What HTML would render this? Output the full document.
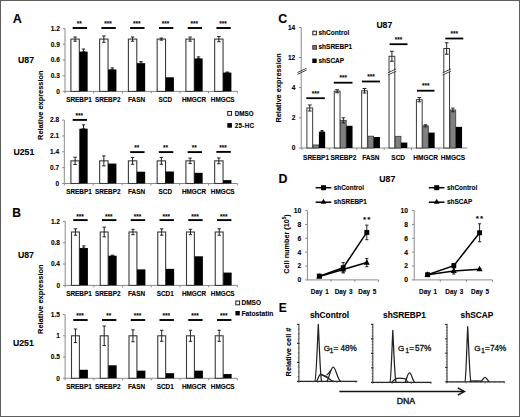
<!DOCTYPE html>
<html><head><meta charset="utf-8"><style>
html,body{margin:0;padding:0;background:#fff;}
svg text{stroke:currentColor;stroke-width:0.1px;}
svg .g1 text{stroke:#111;stroke-width:0.3px;}
svg text.dna{stroke:#222;stroke-width:0.45px;}
body{width:520px;height:417px;overflow:hidden;position:relative;}
.frame{position:absolute;left:0;top:0;width:518px;height:415px;border:1px solid #5e5e5e;}
</style></head><body>
<svg width="520" height="417" viewBox="0 0 520 417" style="position:absolute;left:0;top:0">
<g font-family='"Liberation Sans", sans-serif'>
<rect x="0.00" y="0.00" width="520.00" height="417.00" fill="#fff" stroke="none" stroke-width="1"/>
<text x="12.70" y="22.60" font-size="12.6" text-anchor="start" font-weight="bold" fill="#000" >A</text>
<text x="18.10" y="63.10" font-size="8.7" text-anchor="start" font-weight="bold" fill="#000" >U87</text>
<text x="13.50" y="154.80" font-size="8.7" text-anchor="start" font-weight="bold" fill="#000" >U251</text>
<text transform="translate(43.20,105.20) rotate(-90)" font-size="7.4" text-anchor="middle" font-weight="bold" fill="#000">Relative expression</text>
<line x1="65.00" y1="28.64" x2="65.00" y2="91.90" stroke="#8a8a8a" stroke-width="1" />
<line x1="65.00" y1="91.40" x2="237.40" y2="91.40" stroke="#8a8a8a" stroke-width="1" />
<line x1="62.80" y1="91.40" x2="65.00" y2="91.40" stroke="#8a8a8a" stroke-width="1" />
<text x="59.80" y="93.70" font-size="6.5" text-anchor="end" font-weight="bold" fill="#000" >0</text>
<line x1="62.80" y1="75.71" x2="65.00" y2="75.71" stroke="#8a8a8a" stroke-width="1" />
<text x="59.80" y="78.01" font-size="6.5" text-anchor="end" font-weight="bold" fill="#000" >0.3</text>
<line x1="62.80" y1="60.02" x2="65.00" y2="60.02" stroke="#8a8a8a" stroke-width="1" />
<text x="59.80" y="62.32" font-size="6.5" text-anchor="end" font-weight="bold" fill="#000" >0.6</text>
<line x1="62.80" y1="44.33" x2="65.00" y2="44.33" stroke="#8a8a8a" stroke-width="1" />
<text x="59.80" y="46.63" font-size="6.5" text-anchor="end" font-weight="bold" fill="#000" >0.9</text>
<line x1="62.80" y1="28.64" x2="65.00" y2="28.64" stroke="#8a8a8a" stroke-width="1" />
<text x="59.80" y="30.94" font-size="6.5" text-anchor="end" font-weight="bold" fill="#000" >1.2</text>
<line x1="65.00" y1="91.40" x2="65.00" y2="93.40" stroke="#8a8a8a" stroke-width="1" />
<line x1="93.73" y1="91.40" x2="93.73" y2="93.40" stroke="#8a8a8a" stroke-width="1" />
<line x1="122.47" y1="91.40" x2="122.47" y2="93.40" stroke="#8a8a8a" stroke-width="1" />
<line x1="151.20" y1="91.40" x2="151.20" y2="93.40" stroke="#8a8a8a" stroke-width="1" />
<line x1="179.93" y1="91.40" x2="179.93" y2="93.40" stroke="#8a8a8a" stroke-width="1" />
<line x1="208.67" y1="91.40" x2="208.67" y2="93.40" stroke="#8a8a8a" stroke-width="1" />
<line x1="237.40" y1="91.40" x2="237.40" y2="93.40" stroke="#8a8a8a" stroke-width="1" />
<rect x="70.90" y="39.10" width="8.40" height="52.30" fill="#fff" stroke="#3a3a3a" stroke-width="1.1"/>
<rect x="79.35" y="51.65" width="8.30" height="39.75" fill="#000" stroke="none" stroke-width="1"/>
<line x1="75.10" y1="37.01" x2="75.10" y2="41.19" stroke="#222" stroke-width="1.0" />
<line x1="73.40" y1="37.01" x2="76.80" y2="37.01" stroke="#222" stroke-width="1.0" />
<line x1="73.40" y1="41.19" x2="76.80" y2="41.19" stroke="#222" stroke-width="1.0" />
<line x1="83.50" y1="49.04" x2="83.50" y2="51.65" stroke="#222" stroke-width="1.0" />
<line x1="81.80" y1="49.04" x2="85.20" y2="49.04" stroke="#222" stroke-width="1.0" />
<line x1="81.80" y1="51.65" x2="85.20" y2="51.65" stroke="#222" stroke-width="1.0" />
<line x1="72.65" y1="28.00" x2="87.05" y2="28.00" stroke="#000" stroke-width="1.9" />
<text x="79.30" y="26.30" font-size="6.4" text-anchor="middle" font-weight="bold" fill="#000" >**</text>
<text x="79.00" y="101.70" font-size="6.4" text-anchor="middle" font-weight="bold" fill="#000" >SREBP1</text>
<rect x="99.65" y="39.10" width="8.40" height="52.30" fill="#fff" stroke="#3a3a3a" stroke-width="1.1"/>
<rect x="108.10" y="69.43" width="8.30" height="21.97" fill="#000" stroke="none" stroke-width="1"/>
<line x1="103.85" y1="35.96" x2="103.85" y2="42.24" stroke="#222" stroke-width="1.0" />
<line x1="102.15" y1="35.96" x2="105.55" y2="35.96" stroke="#222" stroke-width="1.0" />
<line x1="102.15" y1="42.24" x2="105.55" y2="42.24" stroke="#222" stroke-width="1.0" />
<line x1="112.25" y1="67.87" x2="112.25" y2="69.43" stroke="#222" stroke-width="1.0" />
<line x1="110.55" y1="67.87" x2="113.95" y2="67.87" stroke="#222" stroke-width="1.0" />
<line x1="110.55" y1="69.43" x2="113.95" y2="69.43" stroke="#222" stroke-width="1.0" />
<line x1="101.40" y1="28.00" x2="115.80" y2="28.00" stroke="#000" stroke-width="1.9" />
<text x="108.05" y="26.30" font-size="6.4" text-anchor="middle" font-weight="bold" fill="#000" >***</text>
<text x="107.75" y="101.70" font-size="6.4" text-anchor="middle" font-weight="bold" fill="#000" >SREBP2</text>
<rect x="128.40" y="39.10" width="8.40" height="52.30" fill="#fff" stroke="#3a3a3a" stroke-width="1.1"/>
<rect x="136.85" y="63.16" width="8.30" height="28.24" fill="#000" stroke="none" stroke-width="1"/>
<line x1="132.60" y1="37.01" x2="132.60" y2="41.19" stroke="#222" stroke-width="1.0" />
<line x1="130.90" y1="37.01" x2="134.30" y2="37.01" stroke="#222" stroke-width="1.0" />
<line x1="130.90" y1="41.19" x2="134.30" y2="41.19" stroke="#222" stroke-width="1.0" />
<line x1="141.00" y1="61.59" x2="141.00" y2="63.16" stroke="#222" stroke-width="1.0" />
<line x1="139.30" y1="61.59" x2="142.70" y2="61.59" stroke="#222" stroke-width="1.0" />
<line x1="139.30" y1="63.16" x2="142.70" y2="63.16" stroke="#222" stroke-width="1.0" />
<line x1="130.15" y1="28.00" x2="144.55" y2="28.00" stroke="#000" stroke-width="1.9" />
<text x="136.80" y="26.30" font-size="6.4" text-anchor="middle" font-weight="bold" fill="#000" >***</text>
<text x="136.50" y="101.70" font-size="6.4" text-anchor="middle" font-weight="bold" fill="#000" >FASN</text>
<rect x="157.15" y="39.10" width="8.40" height="52.30" fill="#fff" stroke="#3a3a3a" stroke-width="1.1"/>
<rect x="165.60" y="77.28" width="8.30" height="14.12" fill="#000" stroke="none" stroke-width="1"/>
<line x1="161.35" y1="38.05" x2="161.35" y2="40.15" stroke="#222" stroke-width="1.0" />
<line x1="159.65" y1="38.05" x2="163.05" y2="38.05" stroke="#222" stroke-width="1.0" />
<line x1="159.65" y1="40.15" x2="163.05" y2="40.15" stroke="#222" stroke-width="1.0" />
<line x1="158.90" y1="28.00" x2="173.30" y2="28.00" stroke="#000" stroke-width="1.9" />
<text x="165.55" y="26.30" font-size="6.4" text-anchor="middle" font-weight="bold" fill="#000" >***</text>
<text x="165.25" y="101.70" font-size="6.4" text-anchor="middle" font-weight="bold" fill="#000" >SCD</text>
<rect x="185.90" y="39.10" width="8.40" height="52.30" fill="#fff" stroke="#3a3a3a" stroke-width="1.1"/>
<rect x="194.35" y="58.45" width="8.30" height="32.95" fill="#000" stroke="none" stroke-width="1"/>
<line x1="190.10" y1="37.01" x2="190.10" y2="41.19" stroke="#222" stroke-width="1.0" />
<line x1="188.40" y1="37.01" x2="191.80" y2="37.01" stroke="#222" stroke-width="1.0" />
<line x1="188.40" y1="41.19" x2="191.80" y2="41.19" stroke="#222" stroke-width="1.0" />
<line x1="198.50" y1="56.88" x2="198.50" y2="58.45" stroke="#222" stroke-width="1.0" />
<line x1="196.80" y1="56.88" x2="200.20" y2="56.88" stroke="#222" stroke-width="1.0" />
<line x1="196.80" y1="58.45" x2="200.20" y2="58.45" stroke="#222" stroke-width="1.0" />
<line x1="187.65" y1="28.00" x2="202.05" y2="28.00" stroke="#000" stroke-width="1.9" />
<text x="194.30" y="26.30" font-size="6.4" text-anchor="middle" font-weight="bold" fill="#000" >***</text>
<text x="194.00" y="101.70" font-size="6.4" text-anchor="middle" font-weight="bold" fill="#000" >HMGCR</text>
<rect x="214.65" y="39.10" width="8.40" height="52.30" fill="#fff" stroke="#3a3a3a" stroke-width="1.1"/>
<rect x="223.10" y="72.57" width="8.30" height="18.83" fill="#000" stroke="none" stroke-width="1"/>
<line x1="218.85" y1="36.49" x2="218.85" y2="41.72" stroke="#222" stroke-width="1.0" />
<line x1="217.15" y1="36.49" x2="220.55" y2="36.49" stroke="#222" stroke-width="1.0" />
<line x1="217.15" y1="41.72" x2="220.55" y2="41.72" stroke="#222" stroke-width="1.0" />
<line x1="227.25" y1="72.05" x2="227.25" y2="72.57" stroke="#222" stroke-width="1.0" />
<line x1="225.55" y1="72.05" x2="228.95" y2="72.05" stroke="#222" stroke-width="1.0" />
<line x1="225.55" y1="72.57" x2="228.95" y2="72.57" stroke="#222" stroke-width="1.0" />
<line x1="216.40" y1="28.00" x2="230.80" y2="28.00" stroke="#000" stroke-width="1.9" />
<text x="223.05" y="26.30" font-size="6.4" text-anchor="middle" font-weight="bold" fill="#000" >***</text>
<text x="222.75" y="101.70" font-size="6.4" text-anchor="middle" font-weight="bold" fill="#000" >HMGCS</text>
<line x1="64.30" y1="120.08" x2="64.30" y2="184.00" stroke="#8a8a8a" stroke-width="1" />
<line x1="64.30" y1="183.50" x2="237.40" y2="183.50" stroke="#8a8a8a" stroke-width="1" />
<line x1="62.10" y1="183.50" x2="64.30" y2="183.50" stroke="#8a8a8a" stroke-width="1" />
<text x="59.10" y="185.80" font-size="6.5" text-anchor="end" font-weight="bold" fill="#000" >0</text>
<line x1="62.10" y1="167.65" x2="64.30" y2="167.65" stroke="#8a8a8a" stroke-width="1" />
<text x="59.10" y="169.95" font-size="6.5" text-anchor="end" font-weight="bold" fill="#000" >0.7</text>
<line x1="62.10" y1="151.79" x2="64.30" y2="151.79" stroke="#8a8a8a" stroke-width="1" />
<text x="59.10" y="154.09" font-size="6.5" text-anchor="end" font-weight="bold" fill="#000" >1.4</text>
<line x1="62.10" y1="135.94" x2="64.30" y2="135.94" stroke="#8a8a8a" stroke-width="1" />
<text x="59.10" y="138.24" font-size="6.5" text-anchor="end" font-weight="bold" fill="#000" >2.1</text>
<line x1="62.10" y1="120.08" x2="64.30" y2="120.08" stroke="#8a8a8a" stroke-width="1" />
<text x="59.10" y="122.38" font-size="6.5" text-anchor="end" font-weight="bold" fill="#000" >2.8</text>
<line x1="64.30" y1="183.50" x2="64.30" y2="185.50" stroke="#8a8a8a" stroke-width="1" />
<line x1="93.15" y1="183.50" x2="93.15" y2="185.50" stroke="#8a8a8a" stroke-width="1" />
<line x1="122.00" y1="183.50" x2="122.00" y2="185.50" stroke="#8a8a8a" stroke-width="1" />
<line x1="150.85" y1="183.50" x2="150.85" y2="185.50" stroke="#8a8a8a" stroke-width="1" />
<line x1="179.70" y1="183.50" x2="179.70" y2="185.50" stroke="#8a8a8a" stroke-width="1" />
<line x1="208.55" y1="183.50" x2="208.55" y2="185.50" stroke="#8a8a8a" stroke-width="1" />
<line x1="237.40" y1="183.50" x2="237.40" y2="185.50" stroke="#8a8a8a" stroke-width="1" />
<rect x="70.90" y="160.85" width="8.40" height="22.65" fill="#fff" stroke="#3a3a3a" stroke-width="1.1"/>
<rect x="79.35" y="128.69" width="8.30" height="54.81" fill="#000" stroke="none" stroke-width="1"/>
<line x1="75.10" y1="157.23" x2="75.10" y2="164.47" stroke="#222" stroke-width="1.0" />
<line x1="73.40" y1="157.23" x2="76.80" y2="157.23" stroke="#222" stroke-width="1.0" />
<line x1="73.40" y1="164.47" x2="76.80" y2="164.47" stroke="#222" stroke-width="1.0" />
<line x1="83.50" y1="124.84" x2="83.50" y2="128.69" stroke="#222" stroke-width="1.0" />
<line x1="81.80" y1="124.84" x2="85.20" y2="124.84" stroke="#222" stroke-width="1.0" />
<line x1="81.80" y1="128.69" x2="85.20" y2="128.69" stroke="#222" stroke-width="1.0" />
<line x1="72.65" y1="119.90" x2="87.05" y2="119.90" stroke="#000" stroke-width="1.9" />
<text x="79.30" y="117.90" font-size="6.4" text-anchor="middle" font-weight="bold" fill="#000" >***</text>
<text x="79.00" y="193.70" font-size="6.4" text-anchor="middle" font-weight="bold" fill="#000" >SREBP1</text>
<rect x="99.65" y="160.85" width="8.40" height="22.65" fill="#fff" stroke="#3a3a3a" stroke-width="1.1"/>
<rect x="108.10" y="163.57" width="8.30" height="19.93" fill="#000" stroke="none" stroke-width="1"/>
<line x1="103.85" y1="155.87" x2="103.85" y2="165.83" stroke="#222" stroke-width="1.0" />
<line x1="102.15" y1="155.87" x2="105.55" y2="155.87" stroke="#222" stroke-width="1.0" />
<line x1="102.15" y1="165.83" x2="105.55" y2="165.83" stroke="#222" stroke-width="1.0" />
<text x="107.75" y="193.70" font-size="6.4" text-anchor="middle" font-weight="bold" fill="#000" >SREBP2</text>
<rect x="128.40" y="160.85" width="8.40" height="22.65" fill="#fff" stroke="#3a3a3a" stroke-width="1.1"/>
<rect x="136.85" y="171.72" width="8.30" height="11.78" fill="#000" stroke="none" stroke-width="1"/>
<line x1="132.60" y1="157.45" x2="132.60" y2="164.25" stroke="#222" stroke-width="1.0" />
<line x1="130.90" y1="157.45" x2="134.30" y2="157.45" stroke="#222" stroke-width="1.0" />
<line x1="130.90" y1="164.25" x2="134.30" y2="164.25" stroke="#222" stroke-width="1.0" />
<line x1="130.15" y1="152.10" x2="144.55" y2="152.10" stroke="#000" stroke-width="1.9" />
<text x="136.80" y="150.10" font-size="6.4" text-anchor="middle" font-weight="bold" fill="#000" >**</text>
<text x="136.50" y="193.70" font-size="6.4" text-anchor="middle" font-weight="bold" fill="#000" >FASN</text>
<rect x="157.15" y="160.85" width="8.40" height="22.65" fill="#fff" stroke="#3a3a3a" stroke-width="1.1"/>
<rect x="165.60" y="171.50" width="8.30" height="12.00" fill="#000" stroke="none" stroke-width="1"/>
<line x1="161.35" y1="157.45" x2="161.35" y2="164.25" stroke="#222" stroke-width="1.0" />
<line x1="159.65" y1="157.45" x2="163.05" y2="157.45" stroke="#222" stroke-width="1.0" />
<line x1="159.65" y1="164.25" x2="163.05" y2="164.25" stroke="#222" stroke-width="1.0" />
<line x1="158.90" y1="152.10" x2="173.30" y2="152.10" stroke="#000" stroke-width="1.9" />
<text x="165.55" y="150.10" font-size="6.4" text-anchor="middle" font-weight="bold" fill="#000" >**</text>
<text x="165.25" y="193.70" font-size="6.4" text-anchor="middle" font-weight="bold" fill="#000" >SCD</text>
<rect x="185.90" y="160.85" width="8.40" height="22.65" fill="#fff" stroke="#3a3a3a" stroke-width="1.1"/>
<rect x="194.35" y="172.85" width="8.30" height="10.65" fill="#000" stroke="none" stroke-width="1"/>
<line x1="190.10" y1="158.13" x2="190.10" y2="163.57" stroke="#222" stroke-width="1.0" />
<line x1="188.40" y1="158.13" x2="191.80" y2="158.13" stroke="#222" stroke-width="1.0" />
<line x1="188.40" y1="163.57" x2="191.80" y2="163.57" stroke="#222" stroke-width="1.0" />
<line x1="187.65" y1="152.10" x2="202.05" y2="152.10" stroke="#000" stroke-width="1.9" />
<text x="194.30" y="150.10" font-size="6.4" text-anchor="middle" font-weight="bold" fill="#000" >**</text>
<text x="194.00" y="193.70" font-size="6.4" text-anchor="middle" font-weight="bold" fill="#000" >HMGCR</text>
<rect x="214.65" y="160.85" width="8.40" height="22.65" fill="#fff" stroke="#3a3a3a" stroke-width="1.1"/>
<rect x="223.10" y="180.10" width="8.30" height="3.40" fill="#000" stroke="none" stroke-width="1"/>
<line x1="218.85" y1="157.91" x2="218.85" y2="163.79" stroke="#222" stroke-width="1.0" />
<line x1="217.15" y1="157.91" x2="220.55" y2="157.91" stroke="#222" stroke-width="1.0" />
<line x1="217.15" y1="163.79" x2="220.55" y2="163.79" stroke="#222" stroke-width="1.0" />
<line x1="216.40" y1="151.90" x2="230.80" y2="151.90" stroke="#000" stroke-width="1.9" />
<text x="223.05" y="149.70" font-size="6.4" text-anchor="middle" font-weight="bold" fill="#000" >***</text>
<text x="222.75" y="193.70" font-size="6.4" text-anchor="middle" font-weight="bold" fill="#000" >HMGCS</text>
<rect x="227.70" y="111.50" width="3.80" height="3.80" fill="#fff" stroke="#222" stroke-width="1"/>
<text x="234.70" y="115.70" font-size="6.3" text-anchor="start" font-weight="bold" fill="#000" >DMSO</text>
<rect x="227.30" y="123.10" width="4.60" height="4.60" fill="#000" stroke="none" stroke-width="1"/>
<text x="234.70" y="127.90" font-size="6.3" text-anchor="start" font-weight="bold" fill="#000" letter-spacing="0.3">25-HC</text>
<text x="12.20" y="216.60" font-size="12.0" text-anchor="start" font-weight="bold" fill="#000" >B</text>
<text x="17.90" y="257.60" font-size="8.7" text-anchor="start" font-weight="bold" fill="#000" >U87</text>
<text x="13.00" y="346.40" font-size="8.7" text-anchor="start" font-weight="bold" fill="#000" >U251</text>
<text transform="translate(43.20,299.20) rotate(-90)" font-size="7.4" text-anchor="middle" font-weight="bold" fill="#000">Relative expression</text>
<line x1="65.20" y1="221.32" x2="65.20" y2="285.90" stroke="#8a8a8a" stroke-width="1" />
<line x1="65.20" y1="285.40" x2="237.40" y2="285.40" stroke="#8a8a8a" stroke-width="1" />
<line x1="63.00" y1="285.40" x2="65.20" y2="285.40" stroke="#8a8a8a" stroke-width="1" />
<text x="60.00" y="287.70" font-size="6.5" text-anchor="end" font-weight="bold" fill="#000" >0</text>
<line x1="63.00" y1="264.04" x2="65.20" y2="264.04" stroke="#8a8a8a" stroke-width="1" />
<text x="60.00" y="266.34" font-size="6.5" text-anchor="end" font-weight="bold" fill="#000" >0.4</text>
<line x1="63.00" y1="242.68" x2="65.20" y2="242.68" stroke="#8a8a8a" stroke-width="1" />
<text x="60.00" y="244.98" font-size="6.5" text-anchor="end" font-weight="bold" fill="#000" >0.8</text>
<line x1="63.00" y1="221.32" x2="65.20" y2="221.32" stroke="#8a8a8a" stroke-width="1" />
<text x="60.00" y="223.62" font-size="6.5" text-anchor="end" font-weight="bold" fill="#000" >1.2</text>
<line x1="65.20" y1="285.40" x2="65.20" y2="287.40" stroke="#8a8a8a" stroke-width="1" />
<line x1="93.90" y1="285.40" x2="93.90" y2="287.40" stroke="#8a8a8a" stroke-width="1" />
<line x1="122.60" y1="285.40" x2="122.60" y2="287.40" stroke="#8a8a8a" stroke-width="1" />
<line x1="151.30" y1="285.40" x2="151.30" y2="287.40" stroke="#8a8a8a" stroke-width="1" />
<line x1="180.00" y1="285.40" x2="180.00" y2="287.40" stroke="#8a8a8a" stroke-width="1" />
<line x1="208.70" y1="285.40" x2="208.70" y2="287.40" stroke="#8a8a8a" stroke-width="1" />
<line x1="237.40" y1="285.40" x2="237.40" y2="287.40" stroke="#8a8a8a" stroke-width="1" />
<rect x="71.50" y="232.00" width="7.90" height="53.40" fill="#fff" stroke="#3a3a3a" stroke-width="1.1"/>
<rect x="79.60" y="248.02" width="8.30" height="37.38" fill="#000" stroke="none" stroke-width="1"/>
<line x1="75.45" y1="228.80" x2="75.45" y2="235.20" stroke="#222" stroke-width="1.0" />
<line x1="73.75" y1="228.80" x2="77.15" y2="228.80" stroke="#222" stroke-width="1.0" />
<line x1="73.75" y1="235.20" x2="77.15" y2="235.20" stroke="#222" stroke-width="1.0" />
<line x1="83.75" y1="245.88" x2="83.75" y2="248.02" stroke="#222" stroke-width="1.0" />
<line x1="82.05" y1="245.88" x2="85.45" y2="245.88" stroke="#222" stroke-width="1.0" />
<line x1="82.05" y1="248.02" x2="85.45" y2="248.02" stroke="#222" stroke-width="1.0" />
<line x1="73.25" y1="220.10" x2="87.65" y2="220.10" stroke="#000" stroke-width="1.9" />
<text x="79.90" y="218.50" font-size="6.4" text-anchor="middle" font-weight="bold" fill="#000" >***</text>
<text x="79.00" y="295.90" font-size="6.4" text-anchor="middle" font-weight="bold" fill="#000" >SREBP1</text>
<rect x="100.25" y="232.00" width="7.90" height="53.40" fill="#fff" stroke="#3a3a3a" stroke-width="1.1"/>
<rect x="108.35" y="255.71" width="8.30" height="29.69" fill="#000" stroke="none" stroke-width="1"/>
<line x1="104.20" y1="227.19" x2="104.20" y2="236.81" stroke="#222" stroke-width="1.0" />
<line x1="102.50" y1="227.19" x2="105.90" y2="227.19" stroke="#222" stroke-width="1.0" />
<line x1="102.50" y1="236.81" x2="105.90" y2="236.81" stroke="#222" stroke-width="1.0" />
<line x1="112.50" y1="255.18" x2="112.50" y2="255.71" stroke="#222" stroke-width="1.0" />
<line x1="110.80" y1="255.18" x2="114.20" y2="255.18" stroke="#222" stroke-width="1.0" />
<line x1="110.80" y1="255.71" x2="114.20" y2="255.71" stroke="#222" stroke-width="1.0" />
<line x1="102.00" y1="220.10" x2="116.40" y2="220.10" stroke="#000" stroke-width="1.9" />
<text x="108.65" y="218.50" font-size="6.4" text-anchor="middle" font-weight="bold" fill="#000" >***</text>
<text x="107.75" y="295.90" font-size="6.4" text-anchor="middle" font-weight="bold" fill="#000" >SREBP2</text>
<rect x="129.00" y="232.00" width="7.90" height="53.40" fill="#fff" stroke="#3a3a3a" stroke-width="1.1"/>
<rect x="137.10" y="269.38" width="8.30" height="16.02" fill="#000" stroke="none" stroke-width="1"/>
<line x1="132.95" y1="229.33" x2="132.95" y2="234.67" stroke="#222" stroke-width="1.0" />
<line x1="131.25" y1="229.33" x2="134.65" y2="229.33" stroke="#222" stroke-width="1.0" />
<line x1="131.25" y1="234.67" x2="134.65" y2="234.67" stroke="#222" stroke-width="1.0" />
<line x1="130.75" y1="220.10" x2="145.15" y2="220.10" stroke="#000" stroke-width="1.9" />
<text x="137.40" y="218.50" font-size="6.4" text-anchor="middle" font-weight="bold" fill="#000" >***</text>
<text x="136.50" y="295.90" font-size="6.4" text-anchor="middle" font-weight="bold" fill="#000" >FASN</text>
<rect x="157.75" y="232.00" width="7.90" height="53.40" fill="#fff" stroke="#3a3a3a" stroke-width="1.1"/>
<rect x="165.85" y="268.85" width="8.30" height="16.55" fill="#000" stroke="none" stroke-width="1"/>
<line x1="161.70" y1="228.80" x2="161.70" y2="235.20" stroke="#222" stroke-width="1.0" />
<line x1="160.00" y1="228.80" x2="163.40" y2="228.80" stroke="#222" stroke-width="1.0" />
<line x1="160.00" y1="235.20" x2="163.40" y2="235.20" stroke="#222" stroke-width="1.0" />
<line x1="159.50" y1="220.10" x2="173.90" y2="220.10" stroke="#000" stroke-width="1.9" />
<text x="166.15" y="218.50" font-size="6.4" text-anchor="middle" font-weight="bold" fill="#000" >***</text>
<text x="165.25" y="295.90" font-size="6.4" text-anchor="middle" font-weight="bold" fill="#000" >SCD1</text>
<rect x="186.50" y="232.00" width="7.90" height="53.40" fill="#fff" stroke="#3a3a3a" stroke-width="1.1"/>
<rect x="194.60" y="256.30" width="8.30" height="29.10" fill="#000" stroke="none" stroke-width="1"/>
<line x1="190.45" y1="229.33" x2="190.45" y2="234.67" stroke="#222" stroke-width="1.0" />
<line x1="188.75" y1="229.33" x2="192.15" y2="229.33" stroke="#222" stroke-width="1.0" />
<line x1="188.75" y1="234.67" x2="192.15" y2="234.67" stroke="#222" stroke-width="1.0" />
<line x1="188.25" y1="220.10" x2="202.65" y2="220.10" stroke="#000" stroke-width="1.9" />
<text x="194.90" y="218.50" font-size="6.4" text-anchor="middle" font-weight="bold" fill="#000" >***</text>
<text x="194.00" y="295.90" font-size="6.4" text-anchor="middle" font-weight="bold" fill="#000" >HMGCR</text>
<rect x="215.25" y="232.00" width="7.90" height="53.40" fill="#fff" stroke="#3a3a3a" stroke-width="1.1"/>
<rect x="223.35" y="272.58" width="8.30" height="12.82" fill="#000" stroke="none" stroke-width="1"/>
<line x1="219.20" y1="228.80" x2="219.20" y2="235.20" stroke="#222" stroke-width="1.0" />
<line x1="217.50" y1="228.80" x2="220.90" y2="228.80" stroke="#222" stroke-width="1.0" />
<line x1="217.50" y1="235.20" x2="220.90" y2="235.20" stroke="#222" stroke-width="1.0" />
<line x1="217.00" y1="220.10" x2="231.40" y2="220.10" stroke="#000" stroke-width="1.9" />
<text x="223.65" y="218.50" font-size="6.4" text-anchor="middle" font-weight="bold" fill="#000" >***</text>
<text x="222.75" y="295.90" font-size="6.4" text-anchor="middle" font-weight="bold" fill="#000" >HMGCS</text>
<line x1="65.10" y1="314.55" x2="65.10" y2="378.80" stroke="#8a8a8a" stroke-width="1" />
<line x1="65.10" y1="378.30" x2="237.40" y2="378.30" stroke="#8a8a8a" stroke-width="1" />
<line x1="62.90" y1="378.30" x2="65.10" y2="378.30" stroke="#8a8a8a" stroke-width="1" />
<text x="59.90" y="380.60" font-size="6.5" text-anchor="end" font-weight="bold" fill="#000" >0</text>
<line x1="62.90" y1="357.05" x2="65.10" y2="357.05" stroke="#8a8a8a" stroke-width="1" />
<text x="59.90" y="359.35" font-size="6.5" text-anchor="end" font-weight="bold" fill="#000" >0.5</text>
<line x1="62.90" y1="335.80" x2="65.10" y2="335.80" stroke="#8a8a8a" stroke-width="1" />
<text x="59.90" y="338.10" font-size="6.5" text-anchor="end" font-weight="bold" fill="#000" >1</text>
<line x1="62.90" y1="314.55" x2="65.10" y2="314.55" stroke="#8a8a8a" stroke-width="1" />
<text x="59.90" y="316.85" font-size="6.5" text-anchor="end" font-weight="bold" fill="#000" >1.5</text>
<line x1="65.10" y1="378.30" x2="65.10" y2="380.30" stroke="#8a8a8a" stroke-width="1" />
<line x1="93.82" y1="378.30" x2="93.82" y2="380.30" stroke="#8a8a8a" stroke-width="1" />
<line x1="122.53" y1="378.30" x2="122.53" y2="380.30" stroke="#8a8a8a" stroke-width="1" />
<line x1="151.25" y1="378.30" x2="151.25" y2="380.30" stroke="#8a8a8a" stroke-width="1" />
<line x1="179.97" y1="378.30" x2="179.97" y2="380.30" stroke="#8a8a8a" stroke-width="1" />
<line x1="208.68" y1="378.30" x2="208.68" y2="380.30" stroke="#8a8a8a" stroke-width="1" />
<line x1="237.40" y1="378.30" x2="237.40" y2="380.30" stroke="#8a8a8a" stroke-width="1" />
<rect x="71.50" y="335.80" width="7.90" height="42.50" fill="#fff" stroke="#3a3a3a" stroke-width="1.1"/>
<rect x="79.60" y="369.80" width="8.30" height="8.50" fill="#000" stroke="none" stroke-width="1"/>
<line x1="75.45" y1="329.00" x2="75.45" y2="342.60" stroke="#222" stroke-width="1.0" />
<line x1="73.75" y1="329.00" x2="77.15" y2="329.00" stroke="#222" stroke-width="1.0" />
<line x1="73.75" y1="342.60" x2="77.15" y2="342.60" stroke="#222" stroke-width="1.0" />
<line x1="73.25" y1="320.00" x2="87.65" y2="320.00" stroke="#000" stroke-width="1.9" />
<text x="79.90" y="317.70" font-size="6.4" text-anchor="middle" font-weight="bold" fill="#000" >***</text>
<text x="79.00" y="388.60" font-size="6.4" text-anchor="middle" font-weight="bold" fill="#000" >SREBP1</text>
<rect x="100.25" y="335.80" width="7.90" height="42.50" fill="#fff" stroke="#3a3a3a" stroke-width="1.1"/>
<rect x="108.35" y="365.30" width="8.30" height="13.00" fill="#000" stroke="none" stroke-width="1"/>
<line x1="104.20" y1="326.03" x2="104.20" y2="345.57" stroke="#222" stroke-width="1.0" />
<line x1="102.50" y1="326.03" x2="105.90" y2="326.03" stroke="#222" stroke-width="1.0" />
<line x1="102.50" y1="345.57" x2="105.90" y2="345.57" stroke="#222" stroke-width="1.0" />
<line x1="102.00" y1="320.00" x2="116.40" y2="320.00" stroke="#000" stroke-width="1.9" />
<text x="108.65" y="317.70" font-size="6.4" text-anchor="middle" font-weight="bold" fill="#000" >**</text>
<text x="107.75" y="388.60" font-size="6.4" text-anchor="middle" font-weight="bold" fill="#000" >SREBP2</text>
<rect x="129.00" y="335.80" width="7.90" height="42.50" fill="#fff" stroke="#3a3a3a" stroke-width="1.1"/>
<rect x="137.10" y="370.65" width="8.30" height="7.65" fill="#000" stroke="none" stroke-width="1"/>
<line x1="132.95" y1="329.85" x2="132.95" y2="341.75" stroke="#222" stroke-width="1.0" />
<line x1="131.25" y1="329.85" x2="134.65" y2="329.85" stroke="#222" stroke-width="1.0" />
<line x1="131.25" y1="341.75" x2="134.65" y2="341.75" stroke="#222" stroke-width="1.0" />
<line x1="130.75" y1="320.00" x2="145.15" y2="320.00" stroke="#000" stroke-width="1.9" />
<text x="137.40" y="317.70" font-size="6.4" text-anchor="middle" font-weight="bold" fill="#000" >***</text>
<text x="136.50" y="388.60" font-size="6.4" text-anchor="middle" font-weight="bold" fill="#000" >FASN</text>
<rect x="157.75" y="335.80" width="7.90" height="42.50" fill="#fff" stroke="#3a3a3a" stroke-width="1.1"/>
<rect x="165.85" y="373.20" width="8.30" height="5.10" fill="#000" stroke="none" stroke-width="1"/>
<line x1="161.70" y1="330.28" x2="161.70" y2="341.32" stroke="#222" stroke-width="1.0" />
<line x1="160.00" y1="330.28" x2="163.40" y2="330.28" stroke="#222" stroke-width="1.0" />
<line x1="160.00" y1="341.32" x2="163.40" y2="341.32" stroke="#222" stroke-width="1.0" />
<line x1="159.50" y1="320.00" x2="173.90" y2="320.00" stroke="#000" stroke-width="1.9" />
<text x="166.15" y="317.70" font-size="6.4" text-anchor="middle" font-weight="bold" fill="#000" >***</text>
<text x="165.25" y="388.60" font-size="6.4" text-anchor="middle" font-weight="bold" fill="#000" >SCD1</text>
<rect x="186.50" y="335.80" width="7.90" height="42.50" fill="#fff" stroke="#3a3a3a" stroke-width="1.1"/>
<rect x="194.60" y="370.65" width="8.30" height="7.65" fill="#000" stroke="none" stroke-width="1"/>
<line x1="190.45" y1="330.28" x2="190.45" y2="341.32" stroke="#222" stroke-width="1.0" />
<line x1="188.75" y1="330.28" x2="192.15" y2="330.28" stroke="#222" stroke-width="1.0" />
<line x1="188.75" y1="341.32" x2="192.15" y2="341.32" stroke="#222" stroke-width="1.0" />
<line x1="188.25" y1="320.00" x2="202.65" y2="320.00" stroke="#000" stroke-width="1.9" />
<text x="194.90" y="317.70" font-size="6.4" text-anchor="middle" font-weight="bold" fill="#000" >***</text>
<text x="194.00" y="388.60" font-size="6.4" text-anchor="middle" font-weight="bold" fill="#000" >HMGCR</text>
<rect x="215.25" y="335.80" width="7.90" height="42.50" fill="#fff" stroke="#3a3a3a" stroke-width="1.1"/>
<rect x="223.35" y="374.05" width="8.30" height="4.25" fill="#000" stroke="none" stroke-width="1"/>
<line x1="219.20" y1="330.28" x2="219.20" y2="341.32" stroke="#222" stroke-width="1.0" />
<line x1="217.50" y1="330.28" x2="220.90" y2="330.28" stroke="#222" stroke-width="1.0" />
<line x1="217.50" y1="341.32" x2="220.90" y2="341.32" stroke="#222" stroke-width="1.0" />
<line x1="217.00" y1="320.00" x2="231.40" y2="320.00" stroke="#000" stroke-width="1.9" />
<text x="223.65" y="317.70" font-size="6.4" text-anchor="middle" font-weight="bold" fill="#000" >***</text>
<text x="222.75" y="388.60" font-size="6.4" text-anchor="middle" font-weight="bold" fill="#000" >HMGCS</text>
<rect x="235.80" y="301.00" width="3.80" height="3.80" fill="#fff" stroke="#222" stroke-width="1"/>
<text x="241.50" y="305.10" font-size="6.5" text-anchor="start" font-weight="bold" fill="#000" >DMSO</text>
<rect x="235.40" y="311.00" width="4.40" height="4.40" fill="#000" stroke="none" stroke-width="1"/>
<text x="241.50" y="315.60" font-size="6.7" text-anchor="start" font-weight="bold" fill="#000" >Fatostatin</text>
<text x="278.30" y="22.90" font-size="12.4" text-anchor="start" font-weight="bold" fill="#000" >C</text>
<text x="376.40" y="28.20" font-size="8.6" text-anchor="start" font-weight="bold" fill="#000" >U87</text>
<text transform="translate(281.10,87.90) rotate(-90)" font-size="7.4" text-anchor="middle" font-weight="bold" fill="#000">Relative expression</text>
<line x1="301.20" y1="27.50" x2="301.20" y2="148.50" stroke="#8a8a8a" stroke-width="1" />
<line x1="301.20" y1="148.00" x2="467.40" y2="148.00" stroke="#8a8a8a" stroke-width="1" />
<line x1="299.00" y1="148.00" x2="301.20" y2="148.00" stroke="#8a8a8a" stroke-width="1" />
<text x="295.30" y="150.30" font-size="6.6" text-anchor="end" font-weight="bold" fill="#000" >0</text>
<line x1="299.00" y1="117.80" x2="301.20" y2="117.80" stroke="#8a8a8a" stroke-width="1" />
<text x="295.30" y="120.10" font-size="6.6" text-anchor="end" font-weight="bold" fill="#000" >2</text>
<line x1="299.00" y1="87.60" x2="301.20" y2="87.60" stroke="#8a8a8a" stroke-width="1" />
<text x="295.30" y="89.90" font-size="6.6" text-anchor="end" font-weight="bold" fill="#000" >4</text>
<line x1="299.00" y1="57.50" x2="301.20" y2="57.50" stroke="#8a8a8a" stroke-width="1" />
<text x="295.30" y="59.80" font-size="6.6" text-anchor="end" font-weight="bold" fill="#000" >12</text>
<line x1="299.00" y1="27.50" x2="301.20" y2="27.50" stroke="#8a8a8a" stroke-width="1" />
<text x="295.30" y="29.80" font-size="6.6" text-anchor="end" font-weight="bold" fill="#000" >14</text>
<line x1="297.40" y1="72.60" x2="306.60" y2="68.20" stroke="#333" stroke-width="0.9" />
<line x1="297.40" y1="74.40" x2="306.60" y2="70.00" stroke="#333" stroke-width="0.9" />
<line x1="302.00" y1="148.00" x2="302.00" y2="150.00" stroke="#8a8a8a" stroke-width="1" />
<rect x="306.90" y="107.98" width="5.75" height="40.02" fill="#fff" stroke="#3a3a3a" stroke-width="1.0"/>
<rect x="313.15" y="144.98" width="5.65" height="3.02" fill="#808080" stroke="#444" stroke-width="0.9"/>
<rect x="318.90" y="131.69" width="6.25" height="16.31" fill="#000" stroke="none" stroke-width="1"/>
<line x1="309.77" y1="104.97" x2="309.77" y2="111.00" stroke="#222" stroke-width="1.0" />
<line x1="307.88" y1="104.97" x2="311.67" y2="104.97" stroke="#222" stroke-width="1.0" />
<line x1="307.88" y1="111.00" x2="311.67" y2="111.00" stroke="#222" stroke-width="1.0" />
<line x1="322.02" y1="130.48" x2="322.02" y2="131.69" stroke="#222" stroke-width="1.0" />
<line x1="320.52" y1="130.48" x2="323.52" y2="130.48" stroke="#222" stroke-width="1.0" />
<line x1="320.52" y1="131.69" x2="323.52" y2="131.69" stroke="#222" stroke-width="1.0" />
<line x1="306.30" y1="98.20" x2="324.80" y2="98.20" stroke="#000" stroke-width="1.8" />
<text x="315.55" y="95.70" font-size="6.4" text-anchor="middle" font-weight="bold" fill="#000" >***</text>
<text x="316.07" y="159.60" font-size="6.5" text-anchor="middle" font-weight="bold" fill="#000" >SREBP1</text>
<line x1="329.38" y1="148.00" x2="329.38" y2="150.00" stroke="#8a8a8a" stroke-width="1" />
<rect x="334.28" y="91.22" width="5.75" height="56.78" fill="#fff" stroke="#3a3a3a" stroke-width="1.0"/>
<rect x="340.53" y="120.37" width="5.65" height="27.63" fill="#808080" stroke="#444" stroke-width="0.9"/>
<rect x="346.28" y="125.80" width="6.25" height="22.20" fill="#000" stroke="none" stroke-width="1"/>
<line x1="337.15" y1="89.71" x2="337.15" y2="92.73" stroke="#222" stroke-width="1.0" />
<line x1="335.25" y1="89.71" x2="339.05" y2="89.71" stroke="#222" stroke-width="1.0" />
<line x1="335.25" y1="92.73" x2="339.05" y2="92.73" stroke="#222" stroke-width="1.0" />
<line x1="343.35" y1="117.80" x2="343.35" y2="122.93" stroke="#222" stroke-width="1.0" />
<line x1="341.65" y1="117.80" x2="345.05" y2="117.80" stroke="#222" stroke-width="1.0" />
<line x1="341.65" y1="122.93" x2="345.05" y2="122.93" stroke="#222" stroke-width="1.0" />
<line x1="333.80" y1="82.70" x2="352.50" y2="82.70" stroke="#000" stroke-width="1.8" />
<text x="343.15" y="80.20" font-size="6.4" text-anchor="middle" font-weight="bold" fill="#000" >***</text>
<text x="343.45" y="159.60" font-size="6.5" text-anchor="middle" font-weight="bold" fill="#000" >SREBP2</text>
<line x1="356.76" y1="148.00" x2="356.76" y2="150.00" stroke="#8a8a8a" stroke-width="1" />
<rect x="361.66" y="90.77" width="5.75" height="57.23" fill="#fff" stroke="#3a3a3a" stroke-width="1.0"/>
<rect x="367.91" y="136.22" width="5.65" height="11.78" fill="#808080" stroke="#444" stroke-width="0.9"/>
<rect x="373.66" y="136.98" width="6.25" height="11.02" fill="#000" stroke="none" stroke-width="1"/>
<line x1="364.53" y1="88.51" x2="364.53" y2="93.04" stroke="#222" stroke-width="1.0" />
<line x1="362.63" y1="88.51" x2="366.43" y2="88.51" stroke="#222" stroke-width="1.0" />
<line x1="362.63" y1="93.04" x2="366.43" y2="93.04" stroke="#222" stroke-width="1.0" />
<line x1="362.00" y1="81.50" x2="380.00" y2="81.50" stroke="#000" stroke-width="1.8" />
<text x="371.00" y="79.00" font-size="6.4" text-anchor="middle" font-weight="bold" fill="#000" >***</text>
<text x="370.83" y="159.60" font-size="6.5" text-anchor="middle" font-weight="bold" fill="#000" >FASN</text>
<line x1="384.14" y1="148.00" x2="384.14" y2="150.00" stroke="#8a8a8a" stroke-width="1" />
<rect x="389.04" y="56.30" width="5.75" height="91.70" fill="#fff" stroke="#3a3a3a" stroke-width="1.0"/>
<rect x="395.29" y="136.37" width="5.65" height="11.63" fill="#808080" stroke="#444" stroke-width="0.9"/>
<rect x="401.04" y="142.56" width="6.25" height="5.44" fill="#000" stroke="none" stroke-width="1"/>
<line x1="391.91" y1="51.32" x2="391.91" y2="61.28" stroke="#222" stroke-width="1.0" />
<line x1="390.01" y1="51.32" x2="393.81" y2="51.32" stroke="#222" stroke-width="1.0" />
<line x1="390.01" y1="61.28" x2="393.81" y2="61.28" stroke="#222" stroke-width="1.0" />
<line x1="387.94" y1="72.80" x2="396.19" y2="68.90" stroke="#333" stroke-width="0.9" />
<line x1="387.94" y1="74.40" x2="396.19" y2="70.50" stroke="#fff" stroke-width="0.9" />
<line x1="387.94" y1="75.00" x2="396.19" y2="71.10" stroke="#333" stroke-width="0.9" />
<line x1="389.60" y1="44.20" x2="407.50" y2="44.20" stroke="#000" stroke-width="1.8" />
<text x="398.55" y="41.70" font-size="6.4" text-anchor="middle" font-weight="bold" fill="#000" >***</text>
<text x="398.21" y="159.60" font-size="6.5" text-anchor="middle" font-weight="bold" fill="#000" >SCD</text>
<line x1="411.52" y1="148.00" x2="411.52" y2="150.00" stroke="#8a8a8a" stroke-width="1" />
<rect x="416.42" y="99.68" width="5.75" height="48.32" fill="#fff" stroke="#3a3a3a" stroke-width="1.0"/>
<rect x="422.67" y="125.80" width="5.65" height="22.20" fill="#808080" stroke="#444" stroke-width="0.9"/>
<rect x="428.42" y="132.60" width="6.25" height="15.40" fill="#000" stroke="none" stroke-width="1"/>
<line x1="419.29" y1="97.57" x2="419.29" y2="101.79" stroke="#222" stroke-width="1.0" />
<line x1="417.39" y1="97.57" x2="421.19" y2="97.57" stroke="#222" stroke-width="1.0" />
<line x1="417.39" y1="101.79" x2="421.19" y2="101.79" stroke="#222" stroke-width="1.0" />
<line x1="425.49" y1="124.75" x2="425.49" y2="126.86" stroke="#222" stroke-width="1.0" />
<line x1="423.79" y1="124.75" x2="427.19" y2="124.75" stroke="#222" stroke-width="1.0" />
<line x1="423.79" y1="126.86" x2="427.19" y2="126.86" stroke="#222" stroke-width="1.0" />
<line x1="417.00" y1="90.70" x2="434.50" y2="90.70" stroke="#000" stroke-width="1.8" />
<text x="425.75" y="88.20" font-size="6.4" text-anchor="middle" font-weight="bold" fill="#000" >***</text>
<text x="425.59" y="159.60" font-size="6.5" text-anchor="middle" font-weight="bold" fill="#000" >HMGCR</text>
<line x1="438.90" y1="148.00" x2="438.90" y2="150.00" stroke="#8a8a8a" stroke-width="1" />
<rect x="443.80" y="48.50" width="5.75" height="99.50" fill="#fff" stroke="#3a3a3a" stroke-width="1.0"/>
<rect x="450.05" y="109.95" width="5.65" height="38.05" fill="#808080" stroke="#444" stroke-width="0.9"/>
<rect x="455.80" y="126.86" width="6.25" height="21.14" fill="#000" stroke="none" stroke-width="1"/>
<line x1="446.67" y1="42.76" x2="446.67" y2="54.24" stroke="#222" stroke-width="1.0" />
<line x1="444.77" y1="42.76" x2="448.57" y2="42.76" stroke="#222" stroke-width="1.0" />
<line x1="444.77" y1="54.24" x2="448.57" y2="54.24" stroke="#222" stroke-width="1.0" />
<line x1="452.87" y1="108.14" x2="452.87" y2="111.76" stroke="#222" stroke-width="1.0" />
<line x1="451.17" y1="108.14" x2="454.57" y2="108.14" stroke="#222" stroke-width="1.0" />
<line x1="451.17" y1="111.76" x2="454.57" y2="111.76" stroke="#222" stroke-width="1.0" />
<line x1="442.70" y1="72.80" x2="450.95" y2="68.90" stroke="#333" stroke-width="0.9" />
<line x1="442.70" y1="74.40" x2="450.95" y2="70.50" stroke="#fff" stroke-width="0.9" />
<line x1="442.70" y1="75.00" x2="450.95" y2="71.10" stroke="#333" stroke-width="0.9" />
<line x1="445.30" y1="38.50" x2="463.30" y2="38.50" stroke="#000" stroke-width="1.8" />
<text x="454.30" y="36.00" font-size="6.4" text-anchor="middle" font-weight="bold" fill="#000" >***</text>
<text x="452.97" y="159.60" font-size="6.5" text-anchor="middle" font-weight="bold" fill="#000" >HMGCS</text>
<rect x="312.80" y="31.20" width="3.60" height="3.60" fill="#fff" stroke="#222" stroke-width="1"/>
<text x="318.50" y="35.00" font-size="6.5" text-anchor="start" font-weight="bold" fill="#000" >shControl</text>
<rect x="312.80" y="45.60" width="3.60" height="3.60" fill="#808080" stroke="#333" stroke-width="1"/>
<text x="318.50" y="49.30" font-size="6.5" text-anchor="start" font-weight="bold" fill="#000" >shSREBP1</text>
<rect x="312.30" y="58.60" width="4.40" height="4.40" fill="#000" stroke="none" stroke-width="1"/>
<text x="318.50" y="62.70" font-size="6.5" text-anchor="start" font-weight="bold" fill="#000" >shSCAP</text>
<text x="278.40" y="183.00" font-size="12.4" text-anchor="start" font-weight="bold" fill="#000" >D</text>
<text x="379.30" y="181.60" font-size="8.7" text-anchor="start" font-weight="bold" fill="#000" >U87</text>
<text transform="translate(288.60,244.00) rotate(-90)" font-size="7.25" text-anchor="middle" font-weight="bold" fill="#000">Cell number (10<tspan font-size="4.5" dy="-2.6">5</tspan><tspan dy="2.6">)</tspan></text>
<line x1="307.40" y1="210.60" x2="307.40" y2="280.40" stroke="#8a8a8a" stroke-width="1" />
<line x1="307.40" y1="279.90" x2="378.50" y2="279.90" stroke="#8a8a8a" stroke-width="1" />
<line x1="305.20" y1="279.90" x2="307.40" y2="279.90" stroke="#8a8a8a" stroke-width="1" />
<text x="301.20" y="282.30" font-size="6.7" text-anchor="end" font-weight="bold" fill="#000" >0</text>
<line x1="305.20" y1="266.04" x2="307.40" y2="266.04" stroke="#8a8a8a" stroke-width="1" />
<text x="301.20" y="268.44" font-size="6.7" text-anchor="end" font-weight="bold" fill="#000" >2</text>
<line x1="305.20" y1="252.18" x2="307.40" y2="252.18" stroke="#8a8a8a" stroke-width="1" />
<text x="301.20" y="254.58" font-size="6.7" text-anchor="end" font-weight="bold" fill="#000" >4</text>
<line x1="305.20" y1="238.32" x2="307.40" y2="238.32" stroke="#8a8a8a" stroke-width="1" />
<text x="301.20" y="240.72" font-size="6.7" text-anchor="end" font-weight="bold" fill="#000" >6</text>
<line x1="305.20" y1="224.46" x2="307.40" y2="224.46" stroke="#8a8a8a" stroke-width="1" />
<text x="301.20" y="226.86" font-size="6.7" text-anchor="end" font-weight="bold" fill="#000" >8</text>
<line x1="305.20" y1="210.60" x2="307.40" y2="210.60" stroke="#8a8a8a" stroke-width="1" />
<text x="301.20" y="213.00" font-size="6.7" text-anchor="end" font-weight="bold" fill="#000" >10</text>
<line x1="331.10" y1="279.90" x2="331.10" y2="281.90" stroke="#8a8a8a" stroke-width="1" />
<line x1="354.80" y1="279.90" x2="354.80" y2="281.90" stroke="#8a8a8a" stroke-width="1" />
<line x1="378.50" y1="279.90" x2="378.50" y2="281.90" stroke="#8a8a8a" stroke-width="1" />
<text x="319.80" y="293.80" font-size="6.4" text-anchor="middle" font-weight="bold" fill="#000" word-spacing="0.9">Day 1</text>
<text x="343.70" y="293.80" font-size="6.4" text-anchor="middle" font-weight="bold" fill="#000" word-spacing="0.9">Day 3</text>
<text x="367.30" y="293.80" font-size="6.4" text-anchor="middle" font-weight="bold" fill="#000" word-spacing="0.9">Day 5</text>
<line x1="319.30" y1="275.40" x2="319.30" y2="276.78" stroke="#222" stroke-width="1.0" />
<line x1="317.70" y1="275.40" x2="320.90" y2="275.40" stroke="#222" stroke-width="1.0" />
<line x1="317.70" y1="276.78" x2="320.90" y2="276.78" stroke="#222" stroke-width="1.0" />
<line x1="343.20" y1="262.57" x2="343.20" y2="272.97" stroke="#222" stroke-width="1.0" />
<line x1="341.60" y1="262.57" x2="344.80" y2="262.57" stroke="#222" stroke-width="1.0" />
<line x1="341.60" y1="272.97" x2="344.80" y2="272.97" stroke="#222" stroke-width="1.0" />
<line x1="343.20" y1="266.73" x2="343.20" y2="272.28" stroke="#222" stroke-width="1.0" />
<line x1="341.60" y1="266.73" x2="344.80" y2="266.73" stroke="#222" stroke-width="1.0" />
<line x1="341.60" y1="272.28" x2="344.80" y2="272.28" stroke="#222" stroke-width="1.0" />
<line x1="366.80" y1="225.15" x2="366.80" y2="239.71" stroke="#222" stroke-width="1.0" />
<line x1="365.20" y1="225.15" x2="368.40" y2="225.15" stroke="#222" stroke-width="1.0" />
<line x1="365.20" y1="239.71" x2="368.40" y2="239.71" stroke="#222" stroke-width="1.0" />
<line x1="366.80" y1="258.42" x2="366.80" y2="266.73" stroke="#222" stroke-width="1.0" />
<line x1="365.20" y1="258.42" x2="368.40" y2="258.42" stroke="#222" stroke-width="1.0" />
<line x1="365.20" y1="266.73" x2="368.40" y2="266.73" stroke="#222" stroke-width="1.0" />
<polyline points="319.30,276.09 343.20,267.77 366.80,232.43" fill="none" stroke="#000" stroke-width="1.5"/>
<polyline points="319.30,276.44 343.20,269.50 366.80,262.57" fill="none" stroke="#000" stroke-width="1.5"/>
<rect x="316.85" y="273.64" width="4.90" height="4.90" fill="#000" stroke="none" stroke-width="1"/>
<polygon points="319.30,273.09 322.30,278.49 316.30,278.49" fill="#000"/>
<rect x="340.75" y="265.32" width="4.90" height="4.90" fill="#000" stroke="none" stroke-width="1"/>
<polygon points="343.20,266.16 346.20,271.56 340.20,271.56" fill="#000"/>
<rect x="364.35" y="229.98" width="4.90" height="4.90" fill="#000" stroke="none" stroke-width="1"/>
<polygon points="366.80,259.23 369.80,264.63 363.80,264.63" fill="#000"/>
<text x="367.30" y="221.90" font-size="8.0" text-anchor="middle" font-weight="bold" fill="#000" letter-spacing="1.2">**</text>
<line x1="315.60" y1="187.70" x2="331.30" y2="187.70" stroke="#000" stroke-width="1.5" />
<rect x="321.00" y="185.20" width="5.00" height="5.00" fill="#000" stroke="none" stroke-width="1"/>
<text x="333.80" y="190.30" font-size="6.4" text-anchor="start" font-weight="bold" fill="#000" >shControl</text>
<line x1="315.60" y1="202.20" x2="331.30" y2="202.20" stroke="#000" stroke-width="1.5" />
<polygon points="323.50,198.78 326.30,203.82 320.70,203.82" fill="#000"/>
<text x="333.80" y="204.30" font-size="6.4" text-anchor="start" font-weight="bold" fill="#000" >shSREBP1</text>
<line x1="414.20" y1="210.60" x2="414.20" y2="280.40" stroke="#8a8a8a" stroke-width="1" />
<line x1="414.20" y1="279.90" x2="492.50" y2="279.90" stroke="#8a8a8a" stroke-width="1" />
<line x1="412.00" y1="279.90" x2="414.20" y2="279.90" stroke="#8a8a8a" stroke-width="1" />
<text x="408.00" y="282.30" font-size="6.7" text-anchor="end" font-weight="bold" fill="#000" >0</text>
<line x1="412.00" y1="266.04" x2="414.20" y2="266.04" stroke="#8a8a8a" stroke-width="1" />
<text x="408.00" y="268.44" font-size="6.7" text-anchor="end" font-weight="bold" fill="#000" >2</text>
<line x1="412.00" y1="252.18" x2="414.20" y2="252.18" stroke="#8a8a8a" stroke-width="1" />
<text x="408.00" y="254.58" font-size="6.7" text-anchor="end" font-weight="bold" fill="#000" >4</text>
<line x1="412.00" y1="238.32" x2="414.20" y2="238.32" stroke="#8a8a8a" stroke-width="1" />
<text x="408.00" y="240.72" font-size="6.7" text-anchor="end" font-weight="bold" fill="#000" >6</text>
<line x1="412.00" y1="224.46" x2="414.20" y2="224.46" stroke="#8a8a8a" stroke-width="1" />
<text x="408.00" y="226.86" font-size="6.7" text-anchor="end" font-weight="bold" fill="#000" >8</text>
<line x1="412.00" y1="210.60" x2="414.20" y2="210.60" stroke="#8a8a8a" stroke-width="1" />
<text x="408.00" y="213.00" font-size="6.7" text-anchor="end" font-weight="bold" fill="#000" >10</text>
<line x1="440.30" y1="279.90" x2="440.30" y2="281.90" stroke="#8a8a8a" stroke-width="1" />
<line x1="466.40" y1="279.90" x2="466.40" y2="281.90" stroke="#8a8a8a" stroke-width="1" />
<line x1="492.50" y1="279.90" x2="492.50" y2="281.90" stroke="#8a8a8a" stroke-width="1" />
<text x="428.10" y="293.80" font-size="6.4" text-anchor="middle" font-weight="bold" fill="#000" word-spacing="0.9">Day 1</text>
<text x="454.30" y="293.80" font-size="6.4" text-anchor="middle" font-weight="bold" fill="#000" word-spacing="0.9">Day 3</text>
<text x="480.10" y="293.80" font-size="6.4" text-anchor="middle" font-weight="bold" fill="#000" word-spacing="0.9">Day 5</text>
<line x1="453.80" y1="263.61" x2="453.80" y2="267.77" stroke="#222" stroke-width="1.0" />
<line x1="452.20" y1="263.61" x2="455.40" y2="263.61" stroke="#222" stroke-width="1.0" />
<line x1="452.20" y1="267.77" x2="455.40" y2="267.77" stroke="#222" stroke-width="1.0" />
<line x1="453.80" y1="267.77" x2="453.80" y2="274.01" stroke="#222" stroke-width="1.0" />
<line x1="452.20" y1="267.77" x2="455.40" y2="267.77" stroke="#222" stroke-width="1.0" />
<line x1="452.20" y1="274.01" x2="455.40" y2="274.01" stroke="#222" stroke-width="1.0" />
<line x1="479.60" y1="223.77" x2="479.60" y2="241.78" stroke="#222" stroke-width="1.0" />
<line x1="478.00" y1="223.77" x2="481.20" y2="223.77" stroke="#222" stroke-width="1.0" />
<line x1="478.00" y1="241.78" x2="481.20" y2="241.78" stroke="#222" stroke-width="1.0" />
<line x1="479.60" y1="268.47" x2="479.60" y2="269.85" stroke="#222" stroke-width="1.0" />
<line x1="478.00" y1="268.47" x2="481.20" y2="268.47" stroke="#222" stroke-width="1.0" />
<line x1="478.00" y1="269.85" x2="481.20" y2="269.85" stroke="#222" stroke-width="1.0" />
<polyline points="427.60,274.70 453.80,265.69 479.60,232.78" fill="none" stroke="#000" stroke-width="1.5"/>
<polyline points="427.60,274.70 453.80,270.89 479.60,269.16" fill="none" stroke="#000" stroke-width="1.5"/>
<rect x="425.15" y="272.25" width="4.90" height="4.90" fill="#000" stroke="none" stroke-width="1"/>
<polygon points="427.60,271.35 430.60,276.75 424.60,276.75" fill="#000"/>
<rect x="451.35" y="263.24" width="4.90" height="4.90" fill="#000" stroke="none" stroke-width="1"/>
<polygon points="453.80,267.54 456.80,272.94 450.80,272.94" fill="#000"/>
<rect x="477.15" y="230.33" width="4.90" height="4.90" fill="#000" stroke="none" stroke-width="1"/>
<polygon points="479.60,265.81 482.60,271.21 476.60,271.21" fill="#000"/>
<text x="480.10" y="221.20" font-size="8.0" text-anchor="middle" font-weight="bold" fill="#000" letter-spacing="1.2">**</text>
<line x1="428.80" y1="187.70" x2="444.50" y2="187.70" stroke="#000" stroke-width="1.5" />
<rect x="434.20" y="185.20" width="5.00" height="5.00" fill="#000" stroke="none" stroke-width="1"/>
<text x="447.00" y="190.30" font-size="6.4" text-anchor="start" font-weight="bold" fill="#000" >shControl</text>
<line x1="428.80" y1="202.20" x2="444.50" y2="202.20" stroke="#000" stroke-width="1.5" />
<polygon points="436.70,198.78 439.50,203.82 433.90,203.82" fill="#000"/>
<text x="447.00" y="204.30" font-size="6.4" text-anchor="start" font-weight="bold" fill="#000" >shSCAP</text>
<text x="278.80" y="311.60" font-size="12.0" text-anchor="start" font-weight="bold" fill="#000" >E</text>
<text transform="translate(291.20,352.00) rotate(-90)" font-size="7.4" text-anchor="middle" font-weight="bold" fill="#000">Relative cell #</text>
<text x="329.50" y="318.20" font-size="8.3" text-anchor="middle" font-weight="bold" fill="#000" >shControl</text>
<line x1="298.90" y1="324.40" x2="298.90" y2="381.90" stroke="#333" stroke-width="1.0" />
<line x1="297.90" y1="381.40" x2="357.20" y2="381.40" stroke="#222" stroke-width="1.2" />
<line x1="297.10" y1="324.40" x2="299.30" y2="324.40" stroke="#222" stroke-width="1.2" />
<line x1="297.80" y1="329.15" x2="299.30" y2="329.15" stroke="#555" stroke-width="0.9" />
<line x1="297.80" y1="333.90" x2="299.30" y2="333.90" stroke="#555" stroke-width="0.9" />
<line x1="297.80" y1="338.65" x2="299.30" y2="338.65" stroke="#555" stroke-width="0.9" />
<line x1="297.10" y1="343.40" x2="299.30" y2="343.40" stroke="#222" stroke-width="1.2" />
<line x1="297.80" y1="348.15" x2="299.30" y2="348.15" stroke="#555" stroke-width="0.9" />
<line x1="297.80" y1="352.90" x2="299.30" y2="352.90" stroke="#555" stroke-width="0.9" />
<line x1="297.80" y1="357.65" x2="299.30" y2="357.65" stroke="#555" stroke-width="0.9" />
<line x1="297.10" y1="362.40" x2="299.30" y2="362.40" stroke="#222" stroke-width="1.2" />
<line x1="297.80" y1="367.15" x2="299.30" y2="367.15" stroke="#555" stroke-width="0.9" />
<line x1="297.80" y1="371.90" x2="299.30" y2="371.90" stroke="#555" stroke-width="0.9" />
<line x1="297.80" y1="376.65" x2="299.30" y2="376.65" stroke="#555" stroke-width="0.9" />
<line x1="297.10" y1="381.40" x2="299.30" y2="381.40" stroke="#222" stroke-width="1.2" />
<line x1="298.90" y1="381.40" x2="298.90" y2="383.00" stroke="#555" stroke-width="0.8" />
<line x1="303.65" y1="381.40" x2="303.65" y2="382.30" stroke="#555" stroke-width="0.8" />
<line x1="308.40" y1="381.40" x2="308.40" y2="382.30" stroke="#555" stroke-width="0.8" />
<line x1="313.15" y1="381.40" x2="313.15" y2="382.30" stroke="#555" stroke-width="0.8" />
<line x1="317.90" y1="381.40" x2="317.90" y2="383.00" stroke="#555" stroke-width="0.8" />
<line x1="322.65" y1="381.40" x2="322.65" y2="382.30" stroke="#555" stroke-width="0.8" />
<line x1="327.40" y1="381.40" x2="327.40" y2="382.30" stroke="#555" stroke-width="0.8" />
<line x1="332.15" y1="381.40" x2="332.15" y2="382.30" stroke="#555" stroke-width="0.8" />
<line x1="336.90" y1="381.40" x2="336.90" y2="383.00" stroke="#555" stroke-width="0.8" />
<line x1="341.65" y1="381.40" x2="341.65" y2="382.30" stroke="#555" stroke-width="0.8" />
<line x1="346.40" y1="381.40" x2="346.40" y2="382.30" stroke="#555" stroke-width="0.8" />
<line x1="351.15" y1="381.40" x2="351.15" y2="382.30" stroke="#555" stroke-width="0.8" />
<line x1="355.90" y1="381.40" x2="355.90" y2="383.00" stroke="#555" stroke-width="0.8" />
<g fill="none" stroke="#222" stroke-width="1.25" stroke-linejoin="round">
<path d="M314.8,381.4 C316.2,380.4 317.3,345 318.3,324.3 C319.3,345 320.4,378.4 321.6,381.4"/>
<path d="M316.6,381.4 C318,379.4 319.2,374.4 320.6,374.2 L329.2,378.7 C331,380.5 332.5,381.4 334,381.4"/>
<path d="M320.9,374.4 L327.5,376.8"/>
<path d="M326.8,381.4 C329,379.4 330.6,367.2 333.3,367.2 C335.6,367.2 337.5,379.4 340.6,381.4"/>
<path d="M326.6,375.0 C328.5,374.2 329.8,371.8 331.0,370.0"/>
</g>
<g font-weight="normal" fill="#111" class="g1">
<text x="323.70" y="350.9" font-size="8.1">G</text>
<text x="329.80" y="353.3" font-size="6.3">1</text>
<text x="333.40" y="350.9" font-size="8.3">=</text>
<text x="340.40" y="350.9" font-size="8.2">48%</text>
</g>
<text x="404.50" y="318.20" font-size="8.3" text-anchor="middle" font-weight="bold" fill="#000" >shSREBP1</text>
<line x1="372.80" y1="324.30" x2="372.80" y2="382.90" stroke="#333" stroke-width="1.0" />
<line x1="371.80" y1="382.40" x2="431.50" y2="382.40" stroke="#222" stroke-width="1.2" />
<line x1="371.00" y1="324.30" x2="373.20" y2="324.30" stroke="#222" stroke-width="1.2" />
<line x1="371.70" y1="327.20" x2="373.20" y2="327.20" stroke="#555" stroke-width="0.9" />
<line x1="371.70" y1="330.11" x2="373.20" y2="330.11" stroke="#555" stroke-width="0.9" />
<line x1="371.70" y1="333.01" x2="373.20" y2="333.01" stroke="#555" stroke-width="0.9" />
<line x1="371.70" y1="335.92" x2="373.20" y2="335.92" stroke="#555" stroke-width="0.9" />
<line x1="371.00" y1="338.82" x2="373.20" y2="338.82" stroke="#222" stroke-width="1.2" />
<line x1="371.70" y1="341.73" x2="373.20" y2="341.73" stroke="#555" stroke-width="0.9" />
<line x1="371.70" y1="344.63" x2="373.20" y2="344.63" stroke="#555" stroke-width="0.9" />
<line x1="371.70" y1="347.54" x2="373.20" y2="347.54" stroke="#555" stroke-width="0.9" />
<line x1="371.70" y1="350.44" x2="373.20" y2="350.44" stroke="#555" stroke-width="0.9" />
<line x1="371.00" y1="353.35" x2="373.20" y2="353.35" stroke="#222" stroke-width="1.2" />
<line x1="371.70" y1="356.25" x2="373.20" y2="356.25" stroke="#555" stroke-width="0.9" />
<line x1="371.70" y1="359.16" x2="373.20" y2="359.16" stroke="#555" stroke-width="0.9" />
<line x1="371.70" y1="362.06" x2="373.20" y2="362.06" stroke="#555" stroke-width="0.9" />
<line x1="371.70" y1="364.97" x2="373.20" y2="364.97" stroke="#555" stroke-width="0.9" />
<line x1="371.00" y1="367.88" x2="373.20" y2="367.88" stroke="#222" stroke-width="1.2" />
<line x1="371.70" y1="370.78" x2="373.20" y2="370.78" stroke="#555" stroke-width="0.9" />
<line x1="371.70" y1="373.69" x2="373.20" y2="373.69" stroke="#555" stroke-width="0.9" />
<line x1="371.70" y1="376.59" x2="373.20" y2="376.59" stroke="#555" stroke-width="0.9" />
<line x1="371.70" y1="379.50" x2="373.20" y2="379.50" stroke="#555" stroke-width="0.9" />
<line x1="371.00" y1="382.40" x2="373.20" y2="382.40" stroke="#222" stroke-width="1.2" />
<line x1="372.80" y1="382.40" x2="372.80" y2="384.00" stroke="#555" stroke-width="0.8" />
<line x1="377.64" y1="382.40" x2="377.64" y2="383.30" stroke="#555" stroke-width="0.8" />
<line x1="382.48" y1="382.40" x2="382.48" y2="383.30" stroke="#555" stroke-width="0.8" />
<line x1="387.32" y1="382.40" x2="387.32" y2="383.30" stroke="#555" stroke-width="0.8" />
<line x1="392.17" y1="382.40" x2="392.17" y2="384.00" stroke="#555" stroke-width="0.8" />
<line x1="397.01" y1="382.40" x2="397.01" y2="383.30" stroke="#555" stroke-width="0.8" />
<line x1="401.85" y1="382.40" x2="401.85" y2="383.30" stroke="#555" stroke-width="0.8" />
<line x1="406.69" y1="382.40" x2="406.69" y2="383.30" stroke="#555" stroke-width="0.8" />
<line x1="411.53" y1="382.40" x2="411.53" y2="384.00" stroke="#555" stroke-width="0.8" />
<line x1="416.37" y1="382.40" x2="416.37" y2="383.30" stroke="#555" stroke-width="0.8" />
<line x1="421.22" y1="382.40" x2="421.22" y2="383.30" stroke="#555" stroke-width="0.8" />
<line x1="426.06" y1="382.40" x2="426.06" y2="383.30" stroke="#555" stroke-width="0.8" />
<line x1="430.90" y1="382.40" x2="430.90" y2="384.00" stroke="#555" stroke-width="0.8" />
<g fill="none" stroke="#222" stroke-width="1.25" stroke-linejoin="round">
<path d="M389.9,382.4 C391,381.4 391.9,350 392.8,330.3 C393.8,350 394.8,380.4 396.1,382.4"/>
<path d="M391.5,382.4 C393,380.9 395,378.6 397.2,378.3 C400,378.0 403,378.3 405.3,378.9 C406.5,380 407.5,382.4 408.5,382.4"/>
<path d="M405.0,382.4 C406.5,380.4 407.5,373.0 409.5,372.9 C411.5,373.0 412.5,380.4 414.6,382.4"/>
</g>
<g font-weight="normal" fill="#111" class="g1">
<text x="398.00" y="350.9" font-size="8.1">G</text>
<text x="405.50" y="353.3" font-size="6.3">1</text>
<text x="409.20" y="350.9" font-size="8.3">=</text>
<text x="414.90" y="350.9" font-size="8.2">57%</text>
</g>
<text x="476.90" y="318.20" font-size="8.3" text-anchor="middle" font-weight="bold" fill="#000" >shSCAP</text>
<line x1="447.00" y1="324.50" x2="447.00" y2="382.30" stroke="#333" stroke-width="1.0" />
<line x1="446.00" y1="381.80" x2="504.80" y2="381.80" stroke="#222" stroke-width="1.2" />
<line x1="445.20" y1="324.50" x2="447.40" y2="324.50" stroke="#222" stroke-width="1.2" />
<line x1="445.90" y1="327.37" x2="447.40" y2="327.37" stroke="#555" stroke-width="0.9" />
<line x1="445.90" y1="330.23" x2="447.40" y2="330.23" stroke="#555" stroke-width="0.9" />
<line x1="445.90" y1="333.10" x2="447.40" y2="333.10" stroke="#555" stroke-width="0.9" />
<line x1="445.90" y1="335.96" x2="447.40" y2="335.96" stroke="#555" stroke-width="0.9" />
<line x1="445.20" y1="338.82" x2="447.40" y2="338.82" stroke="#222" stroke-width="1.2" />
<line x1="445.90" y1="341.69" x2="447.40" y2="341.69" stroke="#555" stroke-width="0.9" />
<line x1="445.90" y1="344.56" x2="447.40" y2="344.56" stroke="#555" stroke-width="0.9" />
<line x1="445.90" y1="347.42" x2="447.40" y2="347.42" stroke="#555" stroke-width="0.9" />
<line x1="445.90" y1="350.28" x2="447.40" y2="350.28" stroke="#555" stroke-width="0.9" />
<line x1="445.20" y1="353.15" x2="447.40" y2="353.15" stroke="#222" stroke-width="1.2" />
<line x1="445.90" y1="356.01" x2="447.40" y2="356.01" stroke="#555" stroke-width="0.9" />
<line x1="445.90" y1="358.88" x2="447.40" y2="358.88" stroke="#555" stroke-width="0.9" />
<line x1="445.90" y1="361.75" x2="447.40" y2="361.75" stroke="#555" stroke-width="0.9" />
<line x1="445.90" y1="364.61" x2="447.40" y2="364.61" stroke="#555" stroke-width="0.9" />
<line x1="445.20" y1="367.48" x2="447.40" y2="367.48" stroke="#222" stroke-width="1.2" />
<line x1="445.90" y1="370.34" x2="447.40" y2="370.34" stroke="#555" stroke-width="0.9" />
<line x1="445.90" y1="373.21" x2="447.40" y2="373.21" stroke="#555" stroke-width="0.9" />
<line x1="445.90" y1="376.07" x2="447.40" y2="376.07" stroke="#555" stroke-width="0.9" />
<line x1="445.90" y1="378.94" x2="447.40" y2="378.94" stroke="#555" stroke-width="0.9" />
<line x1="445.20" y1="381.80" x2="447.40" y2="381.80" stroke="#222" stroke-width="1.2" />
<line x1="447.00" y1="381.80" x2="447.00" y2="383.40" stroke="#555" stroke-width="0.8" />
<line x1="451.77" y1="381.80" x2="451.77" y2="382.70" stroke="#555" stroke-width="0.8" />
<line x1="456.55" y1="381.80" x2="456.55" y2="382.70" stroke="#555" stroke-width="0.8" />
<line x1="461.32" y1="381.80" x2="461.32" y2="382.70" stroke="#555" stroke-width="0.8" />
<line x1="466.10" y1="381.80" x2="466.10" y2="383.40" stroke="#555" stroke-width="0.8" />
<line x1="470.87" y1="381.80" x2="470.87" y2="382.70" stroke="#555" stroke-width="0.8" />
<line x1="475.65" y1="381.80" x2="475.65" y2="382.70" stroke="#555" stroke-width="0.8" />
<line x1="480.42" y1="381.80" x2="480.42" y2="382.70" stroke="#555" stroke-width="0.8" />
<line x1="485.20" y1="381.80" x2="485.20" y2="383.40" stroke="#555" stroke-width="0.8" />
<line x1="489.97" y1="381.80" x2="489.97" y2="382.70" stroke="#555" stroke-width="0.8" />
<line x1="494.75" y1="381.80" x2="494.75" y2="382.70" stroke="#555" stroke-width="0.8" />
<line x1="499.52" y1="381.80" x2="499.52" y2="382.70" stroke="#555" stroke-width="0.8" />
<line x1="504.30" y1="381.80" x2="504.30" y2="383.40" stroke="#555" stroke-width="0.8" />
<g fill="none" stroke="#222" stroke-width="1.25" stroke-linejoin="round">
<path d="M464.9,381.8 C466,380.8 466.8,345 467.7,326.6 C468.7,345 469.7,379.8 471.0,381.8"/>
<path d="M469.5,381.40000000000003 C472,380.6 477,380.8 481.5,381.2"/>
<path d="M481.0,381.8 C482.5,380.3 483.5,377.3 485.0,377.3 C486.5,377.3 487.5,380.3 489.0,381.8"/>
</g>
<g font-weight="normal" fill="#111" class="g1">
<text x="474.30" y="350.9" font-size="8.1">G</text>
<text x="481.20" y="353.3" font-size="6.3">1</text>
<text x="485.00" y="350.9" font-size="8.3">=</text>
<text x="489.90" y="350.9" font-size="8.2">74%</text>
</g>
<line x1="339.40" y1="391.50" x2="464.00" y2="391.50" stroke="#111" stroke-width="1.5" />
<polyline points="457.8,387.8 464.4,391.5 457.8,395.2" fill="none" stroke="#111" stroke-width="1.5"/>
<text x="396.80" y="404.00" font-size="8.7" text-anchor="start" font-weight="normal" fill="#222" class="dna">DNA</text>
</g></svg>
<div class="frame"></div>
</body></html>
